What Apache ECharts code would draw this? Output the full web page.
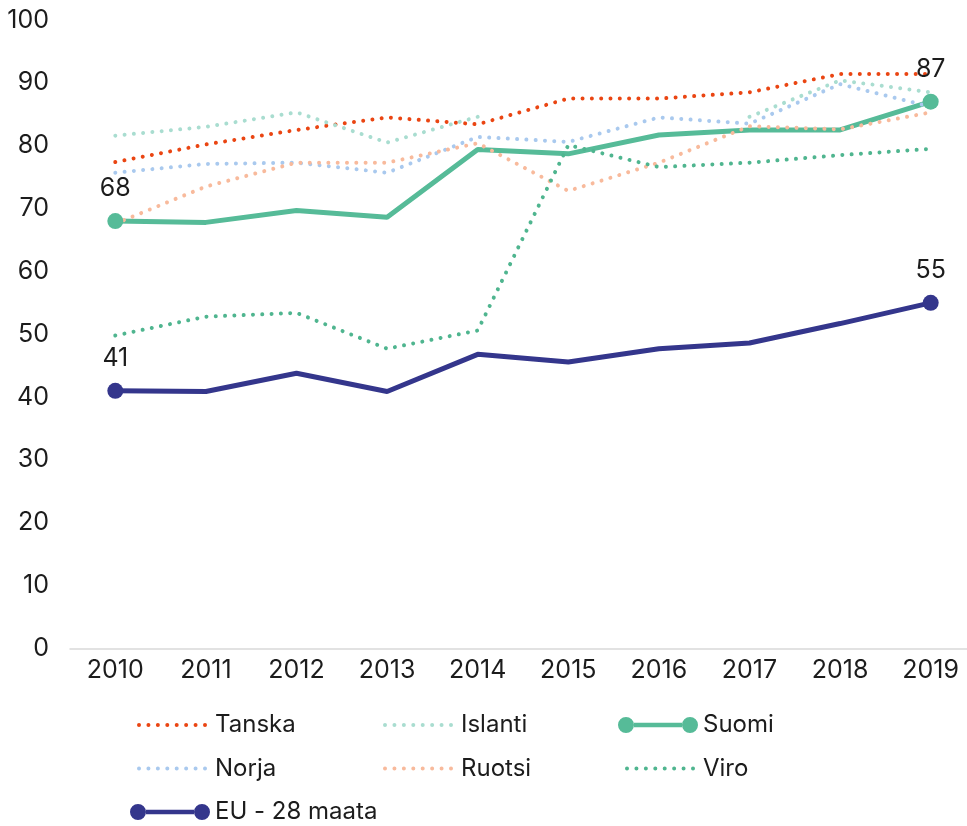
<!DOCTYPE html>
<html>
<head>
<meta charset="utf-8">
<script src="https://cdn.jsdelivr.net/npm/echarts@6/dist/echarts.min.js"></script>
<style>
html, body { margin: 0; padding: 0; background: #ffffff; overflow: hidden; }
/* The plot area runs a little past the right edge of the 967px page */
#chart { width: 976px; height: 826px; }
</style>
</head>
<body>
<div id="chart"></div>
<script>
// Years on the category axis
const years = ['2010', '2011', '2012', '2013', '2014', '2015', '2016', '2017', '2018', '2019'];

// Share per country, by year (null = no value reported)
const tanska  = [77.4, 80.2, 82.5, 84.5, 83.4, 87.5, 87.5, 88.5, 91.4, 91.4];
const islanti = [81.6, 83.0, 85.3, 80.5, 84.6, null, null, 84.6, 90.4, 88.5];
const suomi   = [68, 67.8, 69.7, 68.6, 79.4, 78.7, 81.7, 82.5, 82.5, 87];
const norja   = [75.7, 77.1, 77.3, 75.7, 81.4, 80.6, 84.5, 83.5, 89.8, 86.2];
const ruotsi  = [67.6, 73.5, 77.3, 77.3, 80.4, 72.8, 77.3, 83.1, 82.6, 85.3];
const viro    = [49.8, 52.8, 53.4, 47.7, 50.6, 80.1, 76.6, 77.3, 78.5, 79.5];
const eu28    = [41, 40.9, 43.8, 40.9, 46.8, 45.6, 47.7, 48.6, 51.7, 55];

// Value axis range
const yMin = 0, yMax = 100, yStep = 10;

const FONT = 'Inter, "Noto Sans", sans-serif';
const TEXT = '#1c1c1c';

// Legend icons (box 82 x 16): a row of dots, or a line with a circle at each end
function dotIcon() {
  let p = 'path://M0,0M82,16';
  for (let i = 0; i < 8; i++) {
    const cx = 11 + i * (66 / 7);
    p += `M${(cx - 2).toFixed(2)},8a2,2 0 1,0 4,0a2,2 0 1,0 -4,0Z`;
  }
  return p;
}
const markerIcon = 'path://M0,0M82,16' +
  'M2,8a8,8 0 1,0 16,0a8,8 0 1,0 -16,0Z' +
  'M66,8a8,8 0 1,0 16,0a8,8 0 1,0 -16,0Z' +
  'M18,5.7H66V10.3H18Z';

function dotted(name, data, color) {
  return {
    name, type: 'line', data, symbol: 'none', connectNulls: false,
    lineStyle: { color, width: 4, type: [0.01, 9.3], cap: 'round' },
    itemStyle: { color },
    emphasis: { disabled: true }
  };
}

// Solid series: circle markers and value labels only at the first and last year
function marked(name, data, color) {
  const last = data.length - 1;
  return {
    name, type: 'line', color,
    data: data.map((v, i) => (i === 0 || i === last)
      ? { value: v, symbol: 'circle', symbolSize: 16, label: { show: true } }
      : { value: v, symbol: 'none' }),
    showAllSymbol: true,
    lineStyle: { color, width: 5 },
    itemStyle: { color },
    label: { show: false, position: 'top', distance: 12, fontFamily: FONT, fontSize: 25, color: TEXT },
    emphasis: { disabled: true }
  };
}

const colors = {
  tanska: '#EA4512', islanti: '#A9DDD0', suomi: '#56BB98', norja: '#A9C9EE',
  ruotsi: '#F8BA9C', viro: '#4FB58F', eu: '#34368C'
};

const legendBase = {
  orient: 'vertical', top: 713, padding: 0, itemWidth: 82, itemHeight: 16, itemGap: 19.5,
  selectedMode: false,
  textStyle: { fontFamily: FONT, fontSize: 24, color: TEXT, lineHeight: 24 }
};

const chart = echarts.init(document.getElementById('chart'), null, { renderer: 'canvas' });
chart.setOption({
  animation: false,
  backgroundColor: '#ffffff',
  grid: { left: 70, top: 20, right: 0, height: 628.5, containLabel: false },
  xAxis: {
    type: 'category', data: years, boundaryGap: true,
    axisLine: { lineStyle: { color: '#d9d9d9', width: 1.5 } },
    axisTick: { show: false },
    axisLabel: { margin: 9, fontFamily: FONT, fontSize: 25, color: TEXT }
  },
  yAxis: {
    type: 'value', min: yMin, max: yMax, interval: yStep,
    axisLine: { show: false }, axisTick: { show: false },
    splitLine: { show: false },
    axisLabel: { margin: 21, fontFamily: FONT, fontSize: 25, color: TEXT }
  },
  legend: [
    Object.assign({}, legendBase, { left: 128, data: [
      { name: 'Tanska', icon: dotIcon() },
      { name: 'Norja', icon: dotIcon() },
      { name: 'EU - 28 maata', icon: markerIcon } ] }),
    Object.assign({}, legendBase, { left: 374, data: [
      { name: 'Islanti', icon: dotIcon() },
      { name: 'Ruotsi', icon: dotIcon() } ] }),
    Object.assign({}, legendBase, { left: 616, data: [
      { name: 'Suomi', icon: markerIcon },
      { name: 'Viro', icon: dotIcon() } ] })
  ],
  series: [
    dotted('Tanska', tanska, colors.tanska),
    dotted('Islanti', islanti, colors.islanti),
    marked('Suomi', suomi, colors.suomi),
    dotted('Norja', norja, colors.norja),
    dotted('Ruotsi', ruotsi, colors.ruotsi),
    dotted('Viro', viro, colors.viro),
    marked('EU - 28 maata', eu28, colors.eu)
  ]
});
</script>
</body>
</html>
